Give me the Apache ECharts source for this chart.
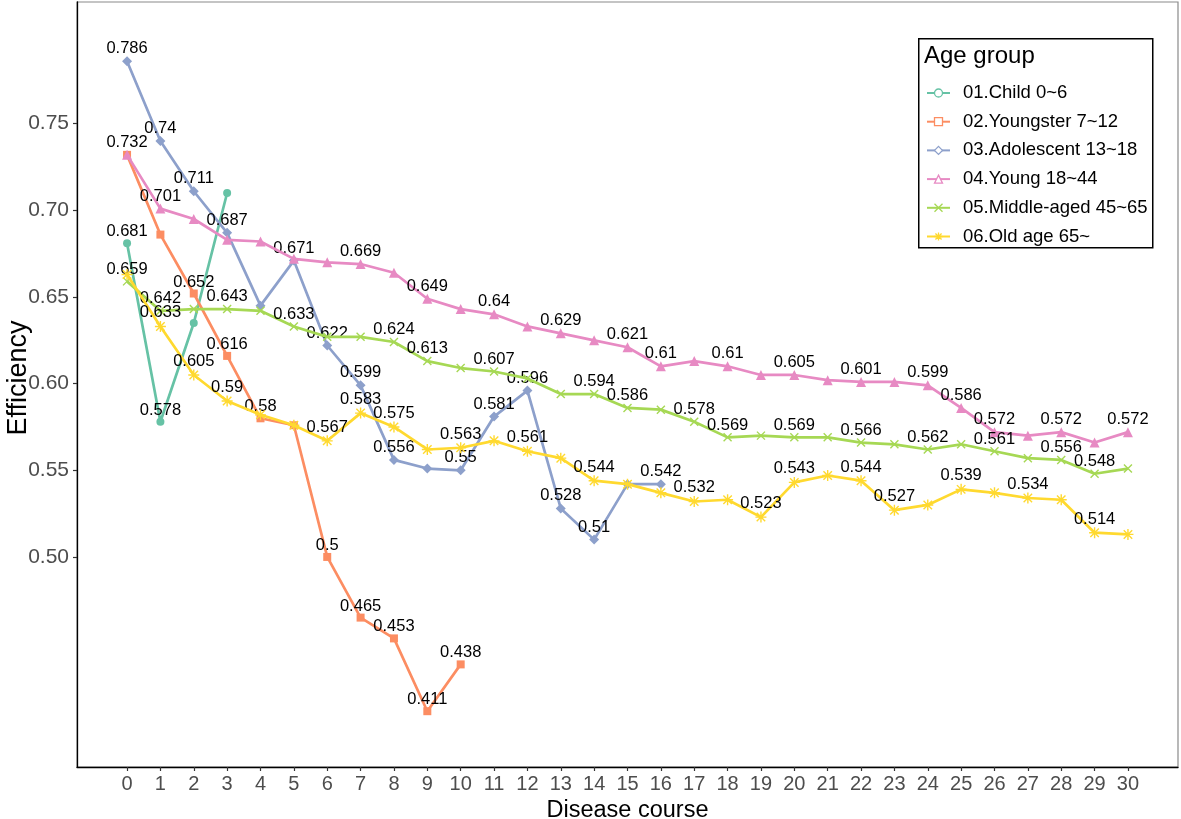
<!DOCTYPE html>
<html>
<head>
<meta charset="utf-8">
<script src="https://cdn.jsdelivr.net/npm/echarts@6/dist/echarts.min.js"></script>
<style>
html,body{margin:0;padding:0;background:#fff;}
#chart{width:1181px;height:819px;}
</style>
</head>
<body>
<div id="chart"></div>
<script>
// ---- data ----
const xTicks = [0,1,2,3,4,5,6,7,8,9,10,11,12,13,14,15,16,17,18,19,20,21,22,23,24,25,26,27,28,29,30];
const yTicks = [0.50,0.55,0.60,0.65,0.70,0.75];
const seriesNames = ["01.Child 0~6","02.Youngster 7~12","03.Adolescent 13~18","04.Young 18~44","05.Middle-aged 45~65","06.Old age 65~"];

const child = [0.681, 0.578, 0.635, 0.710];
const youngster = [0.732, 0.686, 0.652, 0.616, 0.580, 0.576, 0.500, 0.465, 0.453, 0.411, 0.438];
const adolescent = [0.786, 0.740, 0.711, 0.687, 0.645, 0.671, 0.622, 0.599, 0.556, 0.551, 0.550, 0.581, 0.596, 0.528, 0.510, 0.542, 0.542];
const young = [0.732, 0.701, 0.695, 0.683, 0.682, 0.672, 0.670, 0.669, 0.664, 0.649, 0.643, 0.640, 0.633, 0.629, 0.625, 0.621, 0.610, 0.613, 0.610, 0.605, 0.605, 0.602, 0.601, 0.601, 0.599, 0.586, 0.572, 0.570, 0.572, 0.566, 0.572];
const middleAged = [0.659, 0.642, 0.643, 0.643, 0.642, 0.633, 0.627, 0.627, 0.624, 0.613, 0.609, 0.607, 0.603, 0.594, 0.594, 0.586, 0.585, 0.578, 0.569, 0.570, 0.569, 0.569, 0.566, 0.565, 0.562, 0.565, 0.561, 0.557, 0.556, 0.548, 0.551];
const oldAge = [0.663, 0.633, 0.605, 0.590, 0.582, 0.576, 0.567, 0.583, 0.575, 0.562, 0.563, 0.567, 0.561, 0.557, 0.544, 0.542, 0.537, 0.532, 0.533, 0.523, 0.543, 0.547, 0.544, 0.527, 0.530, 0.539, 0.537, 0.534, 0.533, 0.514, 0.513];

// indices of points whose value label is visible in the figure
const labelsChild = [0,1];
const labelsYoungster = [2,3,4,6,7,8,9,10];
const labelsAdolescent = [0,1,2,3,5,6,7,8,10,11,12,13,14,16];
const labelsYoung = [0,1,7,9,11,13,15,16,18,20,22,24,25,26,28,30];
const labelsMiddle = [0,1,3,5,8,9,11,14,15,17,18,20,22,24,26,28,29];
const labelsOld = [1,2,3,6,7,8,10,12,14,17,19,20,22,23,25,27,29];

// ---- styling ----
const colors = ['#66C2A5','#FC8D62','#8DA0CB','#E78AC3','#A6D854','#FFD92F'];
const xSym = 'path://M0,0L10,10M10,0L0,10';
const astSym = 'path://M0,0L10,10M10,0L0,10M5,-1.5L5,11.5M-1.5,5L11.5,5';
const symbols = ['circle','rect','diamond','triangle',xSym,astSym];
const symSizes = [8,8,10,10,8,11];
const stroked = [false,false,false,false,true,true];
const allVals = [child,youngster,adolescent,young,middleAged,oldAge];
const allLabels = [labelsChild,labelsYoungster,labelsAdolescent,labelsYoung,labelsMiddle,labelsOld];
const FONT = 'Liberation Sans, Arial, sans-serif';

const series = allVals.map((vals, s) => ({
  name: seriesNames[s],
  type: 'line',
  data: vals.map((v, i) => ({
    value: [xTicks[i], v],
    label: { show: allLabels[s].indexOf(i) >= 0 }
  })),
  symbol: symbols[s],
  symbolSize: symSizes[s],
  lineStyle: { color: colors[s], width: 2.7 },
  itemStyle: stroked[s]
    ? { color: colors[s], borderColor: colors[s], borderWidth: 1.4 }
    : { color: colors[s], borderWidth: 0 },
  label: {
    show: false,
    position: 'top',
    distance: -1,
    color: '#000',
    fontSize: 16.5,
    fontFamily: FONT,
    formatter: p => String(p.value[1])
  },
  emphasis: { disabled: true },
  animation: false,
  z: 2 + s
}));

const legendData = seriesNames.map((n, s) => ({
  name: n,
  itemStyle: { color: stroked[s] ? colors[s] : '#fff', borderColor: colors[s], borderWidth: 1.3 }
}));

const chart = echarts.init(document.getElementById('chart'), null, { renderer: 'canvas' });
chart.setOption({
  backgroundColor: '#fff',
  animation: false,
  grid: {
    left: 77, right: 3, top: 2, bottom: 52,
    containLabel: false,
    outerBoundsMode: 'none',
    show: true, borderColor: '#8a8a8a', borderWidth: 1.2, backgroundColor: 'transparent'
  },
  xAxis: {
    type: 'value',
    min: -1.5, max: 31.5,
    name: 'Disease course',
    nameLocation: 'middle',
    nameGap: 30,
    nameTextStyle: { fontSize: 23.5, color: '#000', fontFamily: FONT },
    splitLine: { show: false },
    axisLine: { show: true, onZero: false, lineStyle: { color: '#000', width: 1.3 } },
    axisTick: { show: true, length: 4, lineStyle: { color: '#333', width: 1.2 }, customValues: xTicks },
    axisLabel: { fontSize: 20, color: '#4D4D4D', fontFamily: FONT, margin: 7, customValues: xTicks }
  },
  yAxis: {
    type: 'value',
    min: 0.3788, max: 0.8202,
    splitLine: { show: false },
    axisLine: { show: true, onZero: false, lineStyle: { color: '#000', width: 1.3 } },
    axisTick: { show: true, length: 4, lineStyle: { color: '#333', width: 1.2 }, customValues: yTicks },
    axisLabel: { fontSize: 21, color: '#4D4D4D', fontFamily: FONT, margin: 8, customValues: yTicks,
      formatter: v => v.toFixed(2) }
  },
  legend: {
    orient: 'vertical',
    left: 926, top: 83,
    padding: 0,
    itemWidth: 23, itemHeight: 10,
    itemGap: 8.7,
    textStyle: { fontSize: 18.5, color: '#000', fontFamily: FONT, lineHeight: 20, padding: [0,0,0,8] },
    data: legendData,
    selectedMode: false
  },
  graphic: [
    { type: 'rect', left: 918, top: 38, z: 100, silent: true,
      shape: { width: 234, height: 209 },
      style: { fill: 'transparent', stroke: '#000', lineWidth: 1.5 } },
    { type: 'text', left: 924, top: 44, z: 100, silent: true,
      style: { text: 'Age group', fontSize: 24, fill: '#000', fontFamily: FONT } },
    { type: 'text', x: 19, y: 378, rotation: Math.PI / 2, z: 100, silent: true,
      style: { text: 'Efficiency', fontSize: 27, fill: '#000', fontFamily: FONT,
        align: 'center', verticalAlign: 'middle' } }
  ],
  series: series
});
</script>
</body>
</html>
